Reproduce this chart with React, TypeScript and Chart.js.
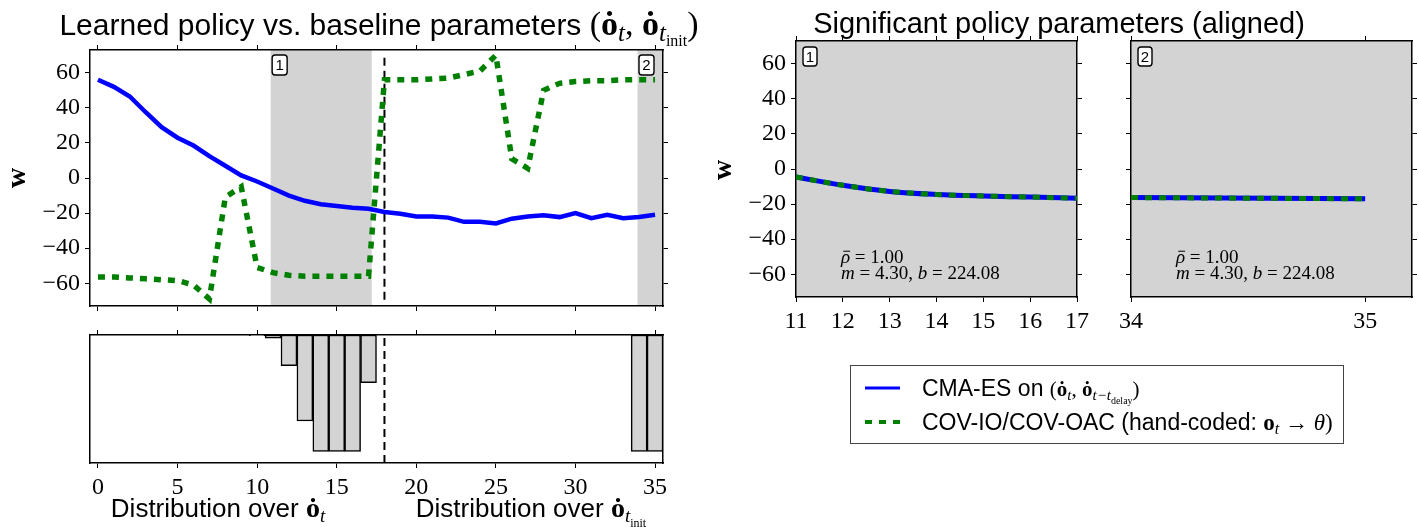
import React, { useEffect, useRef } from 'react';
import { Chart, registerables } from 'chart.js';

Chart.register(...registerables);

const W = 1419;
const H = 527;
const SANS = '"Liberation Sans", Arial, Helvetica, sans-serif';
const SERIF = '"Liberation Serif", "Times New Roman", "DejaVu Serif", serif';
const BLUE = '#0000ff';
const GREEN = '#008000';
const SHADE = '#d3d3d3';

// ---------------- data ----------------
const paramIndex = [0, 1, 2, 3, 4, 5, 6, 7, 8, 9, 10, 11, 12, 13, 14, 15, 16, 17, 18, 19, 20, 21, 22, 23, 24, 25, 26, 27, 28, 29, 30, 31, 32, 33, 34, 35];
const cmaesWeights = [56, 52, 46.5, 37.5, 29, 23, 18.5, 12.5, 7, 1.5, -2, -6, -10, -13, -15, -16, -17, -17.5, -19.4, -20.4, -22, -22, -22.6, -25, -25, -25.9, -23.2, -22, -21.3, -22.3, -20, -22.9, -21, -22.9, -22.3, -21];
const covWeights = [-56.5, -56.5, -57, -57.5, -58, -58.5, -61, -69, -11, -5, -51, -54, -55.5, -56, -56, -56, -56, -56, 56, 56, 56, 56.5, 57, 59, 61, 70, 11, 5.5, 50, 54, 55, 55.5, 55.5, 56, 56, 56];

const sigIndex = [10, 11, 12, 13, 14, 15, 16, 17, 34, 35];
const sigValues = [-0.005, -0.028, -0.264, -0.739, -1.0, -1.0, -1.0, -0.41, -1.0, -1.0];

const panel1Index = [11, 12, 13, 14, 15, 16, 17];
const panel1Cmaes = [-4.6, -9.3, -12.8, -14.5, -15.4, -16, -16.7];
const panel1Cov = [-4.6, -9.3, -12.8, -14.5, -15.4, -16, -16.7];
const panel2Index = [34, 35];
const panel2Cmaes = [-16.3, -17];
const panel2Cov = [-16.3, -17];

const weightTicks = [-60, -40, -20, 0, 20, 40, 60];
const paramTicks = [0, 5, 10, 15, 20, 25, 30, 35];
const panel1Ticks = [11, 12, 13, 14, 15, 16, 17];
const panel2Ticks = [34, 35];

const region1 = [10.85, 17.2];
const region2 = [33.9, 35.5];
const boundaryX = 18;
const boundarySpan = [-69.5, 71];
const sigSpan = [-1.1, 0];
const weightRange = [-73, 73];
const paramRange = [-0.5, 35.5];
const panel1Range = [11, 17];
const panel2Range = [34, 35.2];

// ---------------- helpers ----------------
type Seg = { t: string; f: string; dy?: number; bar?: boolean };
const sans = (size: number, style = '') => `${style} ${size}px ${SANS}`.trim();
const serif = (size: number, style = '') => `${style} ${size}px ${SERIF}`.trim();

function drawRich(ctx: CanvasRenderingContext2D, segs: Seg[], x: number, y: number, align: 'left' | 'center' = 'left') {
  ctx.save();
  ctx.textAlign = 'left';
  ctx.textBaseline = 'alphabetic';
  ctx.fillStyle = '#000';
  ctx.strokeStyle = '#000';
  let w = 0;
  for (const s of segs) {
    ctx.font = s.f;
    w += ctx.measureText(s.t).width;
  }
  let cx = align === 'center' ? x - w / 2 : x;
  for (const s of segs) {
    ctx.font = s.f;
    const sw = ctx.measureText(s.t).width;
    ctx.fillText(s.t, cx, y + (s.dy || 0));
    if (s.bar) {
      const size = parseFloat(s.f.match(/(\d+(\.\d+)?)px/)![1]);
      ctx.lineWidth = 1;
      ctx.beginPath();
      ctx.moveTo(cx + 0.25 * sw, y - 0.62 * size);
      ctx.lineTo(cx + 1.0 * sw, y - 0.62 * size);
      ctx.stroke();
    }
    cx += sw;
  }
  ctx.restore();
}

function labelBox(ctx: CanvasRenderingContext2D, text: string, x: number, y: number, w: number, h: number) {
  ctx.save();
  ctx.beginPath();
  (ctx as any).roundRect(x, y, w, h, 3);
  ctx.fillStyle = '#fff';
  ctx.fill();
  ctx.lineWidth = 1.4;
  ctx.strokeStyle = '#000';
  ctx.stroke();
  ctx.fillStyle = '#000';
  ctx.font = sans(15);
  ctx.textAlign = 'center';
  ctx.textBaseline = 'middle';
  ctx.fillText(text, x + w / 2, y + h / 2 + 1);
  ctx.restore();
}

function rotatedLabel(ctx: CanvasRenderingContext2D, text: string, x: number, y: number) {
  ctx.save();
  ctx.translate(x, y);
  ctx.rotate(-Math.PI / 2);
  ctx.font = serif(28, 'bold');
  ctx.fillStyle = '#000';
  ctx.textAlign = 'center';
  ctx.textBaseline = 'middle';
  ctx.fillText(text, 0, 0);
  ctx.restore();
}

const fmt = (v: number) => (v < 0 ? '\u2212' + Math.abs(v) : String(v));
const toXY = (xs: number[], ys: number[]) => xs.map((x, i) => ({ x, y: ys[i] }));

const LABEL_W = 70;
const LABEL_H = 45;
const BARE = 6;

function axis(position: string, range: number[], ticks: number[], labels: boolean, marks: boolean) {
  return {
    type: 'linear',
    position,
    min: range[0],
    max: range[1],
    display: true,
    offset: false,
    afterBuildTicks: (s: any) => {
      s.ticks = ticks.map((v) => ({ value: v }));
    },
    afterFit: (s: any) => {
      if (s.isHorizontal()) s.height = labels ? LABEL_H : BARE;
      else s.width = labels ? LABEL_W : BARE;
    },
    grid: { display: true, offset: false, drawOnChartArea: false, drawTicks: marks, tickLength: 5, color: '#000', lineWidth: 1 },
    border: { display: true, color: '#000', width: 1.5 },
    ticks: {
      display: labels,
      autoSkip: false,
      maxRotation: 0,
      padding: 5,
      color: '#000',
      font: { family: SERIF, size: 24 },
      callback: (v: any) => fmt(Number(v)),
    },
  };
}

function padFor(L: number, T: number, R: number, B: number, leftLabels: boolean, bottomLabels: boolean) {
  return {
    left: L - (leftLabels ? LABEL_W : BARE),
    top: T - BARE,
    right: W - R - BARE,
    bottom: H - B - (bottomLabels ? LABEL_H : BARE),
  };
}

const baseOptions = {
  responsive: false,
  animation: false as const,
  devicePixelRatio: 1,
  events: [] as any[],
  plugins: { legend: { display: false }, tooltip: { enabled: false } },
  elements: { point: { radius: 0 }, line: { tension: 0 } },
};

// ---------------- text content ----------------
const titleLeft: Seg[] = [
  { t: 'Learned policy vs. baseline parameters ', f: sans(30) },
  { t: '(', f: serif(34) },
  { t: '\u022F', f: serif(34, 'bold') },
  { t: 't', f: serif(25, 'italic'), dy: 6 },
  { t: ', ', f: serif(34) },
  { t: '\u022F', f: serif(34, 'bold') },
  { t: 't', f: serif(25, 'italic'), dy: 6 },
  { t: 'init', f: serif(16), dy: 11 },
  { t: ')', f: serif(34) },
];
const titleRight: Seg[] = [{ t: 'Significant policy parameters (aligned)', f: sans(29) }];
const xLabelLeft: Seg[] = [
  { t: 'Distribution over ', f: sans(26) },
  { t: '\u022F', f: serif(28, 'bold') },
  { t: 't', f: serif(19, 'italic'), dy: 5 },
];
const xLabelRight: Seg[] = [
  { t: 'Distribution over ', f: sans(26) },
  { t: '\u022F', f: serif(28, 'bold') },
  { t: 't', f: serif(19, 'italic'), dy: 5 },
  { t: 'init', f: serif(12), dy: 10 },
];
const legendRow1: Seg[] = [
  { t: 'CMA-ES on ', f: sans(23) },
  { t: '(', f: serif(21) },
  { t: '\u022F', f: serif(21, 'bold') },
  { t: 't', f: serif(15, 'italic'), dy: 4 },
  { t: ', ', f: serif(21) },
  { t: '\u022F', f: serif(21, 'bold') },
  { t: 't\u2212t', f: serif(15, 'italic'), dy: 4 },
  { t: 'delay', f: serif(10), dy: 8 },
  { t: ')', f: serif(21) },
];
const legendRow2: Seg[] = [
  { t: 'COV-IO/COV-OAC (hand-coded: ', f: sans(23) },
  { t: 'o', f: serif(23, 'bold') },
  { t: 't', f: serif(16, 'italic'), dy: 4 },
  { t: ' \u2192 ', f: serif(23) },
  { t: '\u03B8', f: serif(23, 'italic') },
  { t: ')', f: serif(23) },
];
const statLine1: Seg[] = [
  { t: '\u03C1', f: serif(19, 'italic'), bar: true },
  { t: ' = 1.00', f: serif(19) },
];
const statLine2: Seg[] = [
  { t: 'm', f: serif(19, 'italic') },
  { t: ' = 4.30, ', f: serif(19) },
  { t: 'b', f: serif(19, 'italic') },
  { t: ' = 224.08', f: serif(19) },
];

// ---------------- chart builders ----------------
function makeMain(canvas: HTMLCanvasElement) {
  return new Chart(canvas, {
    type: 'line',
    data: {
      datasets: [
        { label: 'COV-IO/COV-OAC', data: toXY(paramIndex, covWeights), borderColor: GREEN, borderWidth: 5.5, borderDash: [7, 7], borderCapStyle: 'butt', pointRadius: 0, order: 0 },
        { label: 'CMA-ES', data: toXY(paramIndex, cmaesWeights), borderColor: BLUE, borderWidth: 4.5, pointRadius: 0, order: 1 },
        { label: 'boundary', data: toXY([boundaryX, boundaryX], boundarySpan), borderColor: '#000', borderWidth: 2, borderDash: [8, 5], pointRadius: 0, order: 2 },
      ],
    } as any,
    options: {
      ...baseOptions,
      layout: { padding: padFor(90, 50, 663, 306, true, false) },
      scales: {
        x: axis('bottom', paramRange, paramTicks, false, true),
        xT: axis('top', paramRange, paramTicks, false, true),
        y: axis('left', weightRange, weightTicks, true, true),
        yR: axis('right', weightRange, weightTicks, false, true),
      },
    } as any,
    plugins: [
      {
        id: 'mainDecor',
        beforeDraw(chart: any) {
          const { ctx, chartArea: a, scales } = chart;
          ctx.save();
          ctx.fillStyle = SHADE;
          for (const r of [region1, region2]) {
            const x1 = scales.x.getPixelForValue(r[0]);
            const x2 = scales.x.getPixelForValue(r[1]);
            ctx.fillRect(x1, a.top, x2 - x1, a.bottom - a.top);
          }
          ctx.restore();
        },
        afterDraw(chart: any) {
          const { ctx, chartArea: a, scales } = chart;
          const x1 = scales.x.getPixelForValue(region1[0]);
          labelBox(ctx, '1', x1 + 1.5, a.top + 5, 15, 20);
          labelBox(ctx, '2', a.right - 24, a.top + 5, 15, 20);
          drawRich(ctx, titleLeft, 379, 35, 'center');
          rotatedLabel(ctx, 'w', 18, 178);
        },
      },
    ],
  });
}

function makeBars(canvas: HTMLCanvasElement) {
  return new Chart(canvas, {
    type: 'bar',
    data: {
      datasets: [
        { type: 'line', label: 'boundary', data: toXY([boundaryX, boundaryX], sigSpan), borderColor: '#000', borderWidth: 2, borderDash: [8, 5], pointRadius: 0, order: 0 },
        { type: 'bar', label: 'significance', data: toXY(sigIndex, sigValues), backgroundColor: SHADE, borderColor: '#000', borderWidth: 1.5, borderSkipped: false, barPercentage: 1, categoryPercentage: 1, order: 1 },
      ],
    } as any,
    options: {
      ...baseOptions,
      layout: { padding: padFor(90, 335, 663, 463, false, true) },
      scales: {
        x: axis('bottom', paramRange, paramTicks, true, true),
        xT: axis('top', paramRange, paramTicks, false, true),
        y: axis('left', sigSpan, [], false, false),
        yR: axis('right', sigSpan, [], false, false),
      },
    } as any,
    plugins: [
      {
        id: 'barDecor',
        afterDraw(chart: any) {
          const { ctx } = chart;
          drawRich(ctx, xLabelLeft, 218, 517, 'center');
          drawRich(ctx, xLabelRight, 531, 517, 'center');
        },
      },
    ],
  });
}

function makePanel(canvas: HTMLCanvasElement, which: 1 | 2) {
  const xs = which === 1 ? panel1Index : panel2Index;
  const cm = which === 1 ? panel1Cmaes : panel2Cmaes;
  const cv = which === 1 ? panel1Cov : panel2Cov;
  const range = which === 1 ? panel1Range : panel2Range;
  const ticks = which === 1 ? panel1Ticks : panel2Ticks;
  const L = which === 1 ? 796 : 1131;
  const R = which === 1 ? 1077 : 1412;
  return new Chart(canvas, {
    type: 'line',
    data: {
      datasets: [
        { label: 'COV-IO/COV-OAC', data: toXY(xs, cv), borderColor: GREEN, borderWidth: 5, borderDash: [7, 7], borderCapStyle: 'butt', pointRadius: 0, cubicInterpolationMode: 'monotone', order: 0 },
        { label: 'CMA-ES', data: toXY(xs, cm), borderColor: BLUE, borderWidth: 5, pointRadius: 0, cubicInterpolationMode: 'monotone', order: 1 },
      ],
    } as any,
    options: {
      ...baseOptions,
      layout: { padding: padFor(L, 41, R, 297, which === 1, true) },
      scales: {
        x: axis('bottom', range, ticks, true, true),
        xT: axis('top', range, ticks, false, true),
        y: axis('left', weightRange, weightTicks, which === 1, true),
        yR: axis('right', weightRange, weightTicks, false, true),
      },
    } as any,
    plugins: [
      {
        id: 'panelDecor' + which,
        beforeDraw(chart: any) {
          const { ctx, chartArea: a } = chart;
          ctx.save();
          ctx.fillStyle = SHADE;
          ctx.fillRect(a.left, a.top, a.right - a.left, a.bottom - a.top);
          ctx.restore();
        },
        afterDraw(chart: any) {
          const { ctx, chartArea: a } = chart;
          labelBox(ctx, String(which), a.left + 7, a.top + 6, 14, 19);
          drawRich(ctx, statLine1, a.left + 45, a.top + 222);
          drawRich(ctx, statLine2, a.left + 45, a.top + 238);
          if (which === 1) {
            drawRich(ctx, titleRight, 1059, 33, 'center');
            rotatedLabel(ctx, 'w', 724, 170);
            // legend
            const ds = chart.data.datasets;
            const blue = ds[1];
            const green = ds[0];
            ctx.save();
            ctx.strokeStyle = '#444';
            ctx.lineWidth = 1;
            ctx.strokeRect(850.5, 365.5, 493, 78);
            ctx.lineWidth = 3;
            ctx.strokeStyle = blue.borderColor;
            ctx.beginPath();
            ctx.moveTo(865, 388);
            ctx.lineTo(900, 388);
            ctx.stroke();
            ctx.lineWidth = 4;
            ctx.strokeStyle = green.borderColor;
            ctx.setLineDash(green.borderDash);
            ctx.beginPath();
            ctx.moveTo(865, 422);
            ctx.lineTo(900, 422);
            ctx.stroke();
            ctx.restore();
            drawRich(ctx, legendRow1, 922, 396);
            drawRich(ctx, legendRow2, 922, 430);
          }
        },
      },
    ],
  });
}

function ChartCanvas({ make }: { make: (c: HTMLCanvasElement) => Chart }) {
  const ref = useRef<HTMLCanvasElement | null>(null);
  useEffect(() => {
    if (!ref.current) return;
    const chart = make(ref.current);
    return () => chart.destroy();
  }, []);
  return <canvas ref={ref} width={W} height={H} style={{ position: 'absolute', left: 0, top: 0, width: W, height: H }} />;
}

export default function App() {
  return (
    <div style={{ position: 'absolute', left: 0, top: 0, width: W, height: H, background: '#fff', overflow: 'hidden' }}>
      <ChartCanvas make={makeMain} />
      <ChartCanvas make={makeBars} />
      <ChartCanvas make={(c) => makePanel(c, 1)} />
      <ChartCanvas make={(c) => makePanel(c, 2)} />
    </div>
  );
}
